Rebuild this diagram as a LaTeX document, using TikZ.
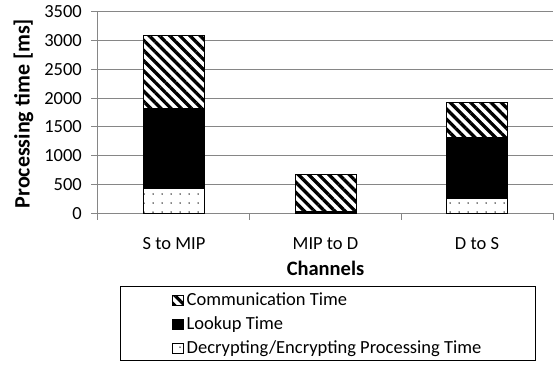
\documentclass[tikz,border=0pt]{standalone}
\usepackage{fontspec}
\setmainfont{Carlito}
\usetikzlibrary{patterns.meta}
\definecolor{gridc}{RGB}{134,134,134}
\begin{document}
\begin{tikzpicture}[x=1pt,y=-1pt,
  grid/.style={draw=gridc,line width=0.9pt},
  ticklab/.style={font=\fontsize{18.5}{20}\selectfont,inner sep=0pt,text=black},
  boldlab/.style={font=\fontsize{20.5}{22}\selectfont\bfseries,inner sep=0pt,text=black},
  seg/.style={draw=black,line width=0.9pt,preaction={fill=white}},
  comm/.style={seg,pattern={Lines[angle=-45,distance=7.2pt,line width=3.3pt]}},
  look/.style={seg,fill=black},
  decr/.style={seg,pattern={Dots[distance=9pt,radius=0.75pt]}},
  legtext/.style={font=\fontsize{18.5}{20}\selectfont,inner sep=0pt,anchor=base west,text=black}
]
\useasboundingbox (0,0) rectangle (556,365);
\begin{scope}[shift={(0,213.3)},y=0.0576pt]
  % gridlines and y ticks
  \foreach \v in {500,1000,...,3500}{
    \draw[grid] (97,\v) -- (553,\v);
  }
  \foreach \v in {0,500,...,3500}{
    \draw[grid] (91,\v) -- (97,\v);
    \node[ticklab,anchor=east] (yl\v) at (82,\v) {\v};
  }
  \draw[grid] (97,0) -- (97,3500);
  \draw[grid] (97,0) -- (553,0);
  \foreach \x in {97,249,401,553}{
    \draw[grid] (\x,0) -- (\x,-122);
  }
  % bar 1: S to MIP
  \draw[decr] (143.3,0) rectangle (204.3,434);
  \draw[look] (143.3,434) rectangle (204.3,1816);
  \draw[comm] (143.3,1816) rectangle (204.3,3095);
  % bar 2: MIP to D
  \draw[look] (295,0) rectangle (356,25);
  \draw[comm] (295,25) rectangle (356,682);
  % bar 3: D to S
  \draw[decr] (446.7,0) rectangle (507.7,260);
  \draw[look] (446.7,260) rectangle (507.7,1319);
  \draw[comm] (446.7,1319) rectangle (507.7,1927);
\end{scope}
% category labels
\node[ticklab] (c1) at (174,244) {S to MIP};
\node[ticklab] (c2) at (325.5,244) {MIP to D};
\node[ticklab] (c3) at (477,244) {D to S};
\node[boldlab] (xt) at (325.5,268.3) {Channels};
\node[boldlab,font=\fontsize{22}{24}\selectfont\bfseries,rotate=90] (yt) at (23.5,113.5) {Processing time [ms]};
% legend
\draw[draw=black,line width=1pt] (120,286.7) rectangle (535,360.7);
\draw[comm] (172,295.5) rectangle (183,305.5);
\draw[look] (172,319.5) rectangle (183,329.5);
\draw[decr] (172,343.5) rectangle (183,353.5);
\node[legtext] (l1) at (186.5,305.5) {Communication Time};
\node[legtext] (l2) at (186.5,329.5) {Lookup Time};
\node[legtext] (l3) at (186.5,353.5) {Decrypting/Encrypting Processing Time};
\end{tikzpicture}
\end{document}
